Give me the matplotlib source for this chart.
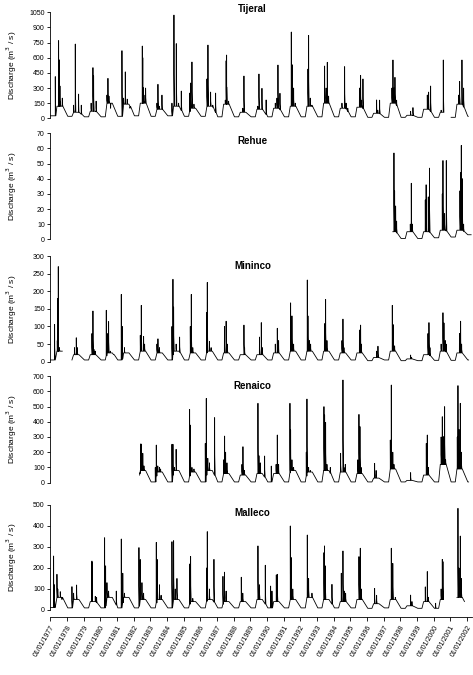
import numpy as np
import matplotlib
matplotlib.use('Agg')
import matplotlib.pyplot as plt

plt.rcParams['font.family'] = ['Liberation Sans', 'DejaVu Sans']

years = list(range(1977, 2003))
tick_labels = ['01/01/{}'.format(y) for y in years]

# ---- Tijeral (1977 - 2002) ----
tijeral_low = [25, 20, 15, 15, 20, 25, 20, 25, 20, 20, 15, 15, 15, 15, 15, 15, 15, 15, 15, 10, 10, 10, 10, 10, 10, 20]
tijeral_wet = [120, 60, 70, 150, 140, 150, 90, 120, 100, 120, 140, 60, 90, 100, 120, 120, 150, 100, 110, 50, 150, 30, 90, 60, 140, 100]
tijeral_peaks = [
    (1977.30, 413), (1977.50, 770), (1977.53, 580), (1977.58, 320), (1977.62, 160), (1977.72, 200),
    (1978.40, 130), (1978.50, 736), (1978.70, 240), (1978.86, 130),
    (1979.45, 150), (1979.56, 502), (1979.60, 420), (1979.75, 170),
    (1980.40, 230), (1980.46, 396), (1980.52, 220), (1980.62, 100),
    (1981.30, 670), (1981.40, 200), (1981.50, 460), (1981.62, 190), (1981.78, 100),
    (1982.45, 150), (1982.52, 716), (1982.55, 600), (1982.62, 230), (1982.72, 300),
    (1983.40, 150), (1983.46, 337), (1983.55, 120), (1983.70, 230),
    (1984.30, 150), (1984.42, 1023), (1984.56, 740), (1984.70, 150), (1984.86, 270),
    (1985.36, 250), (1985.42, 350), (1985.50, 558), (1985.62, 140),
    (1986.40, 390), (1986.46, 726), (1986.62, 260), (1986.75, 130), (1986.92, 250),
    (1987.50, 180), (1987.55, 570), (1987.58, 627), (1987.70, 170),
    (1988.55, 100), (1988.62, 419), (1988.70, 60),
    (1989.45, 120), (1989.52, 439), (1989.70, 297), (1989.95, 182),
    (1990.50, 150), (1990.60, 200), (1990.66, 528), (1990.78, 248),
    (1991.46, 855), (1991.52, 530), (1991.60, 300), (1991.70, 150),
    (1992.46, 488), (1992.50, 822), (1992.60, 200), (1992.70, 130),
    (1993.46, 518), (1993.55, 300), (1993.62, 555), (1993.70, 220),
    (1994.50, 150), (1994.66, 512), (1994.75, 150), (1994.85, 100),
    (1995.55, 300), (1995.62, 426), (1995.68, 180), (1995.76, 390),
    (1996.58, 182), (1996.65, 80), (1996.76, 180),
    (1997.50, 300), (1997.56, 578), (1997.62, 300), (1997.68, 406), (1997.78, 180),
    (1998.62, 70), (1998.76, 106),
    (1999.62, 231), (1999.70, 260), (1999.82, 320),
    (2000.45, 80), (2000.58, 578),
    (2001.50, 230), (2001.56, 366), (2001.70, 578), (2001.80, 300),
]

# ---- Rehue (1997 - 2002) ----
rehue_low = [3, 0.5, 0.5, 1, 1.5, 3]
rehue_wet = [5, 5, 5, 6, 6, 5]
rehue_peaks = [
    (1997.62, 57), (1997.66, 32), (1997.72, 22), (1997.78, 12),
    (1998.60, 10), (1998.66, 37), (1998.72, 10),
    (1999.50, 26), (1999.55, 36), (1999.68, 28), (1999.75, 47),
    (2000.52, 30), (2000.56, 52), (2000.66, 17), (2000.76, 52),
    (2001.58, 32), (2001.62, 44), (2001.66, 62), (2001.72, 40), (2001.80, 10),
]

# ---- Mininco (1977 - 2002) ----
mininco_low = [5, 5, 5, 5, 5, 5, 5, 5, 5, 5, 5, 5, 5, 5, 5, 5, 5, 5, 5, 3, 5, 3, 3, 4, 4, 5]
mininco_wet = [30, 20, 20, 25, 25, 30, 25, 30, 25, 30, 25, 20, 20, 25, 30, 30, 30, 25, 25, 12, 30, 8, 20, 30, 25, 20]
mininco_peaks = [
    (1977.26, 106), (1977.42, 60), (1977.46, 180), (1977.48, 270), (1977.55, 40), (1977.65, 30),
    (1978.45, 40), (1978.56, 68), (1978.62, 40),
    (1979.50, 80), (1979.56, 144), (1979.62, 35), (1979.70, 30),
    (1980.36, 146), (1980.45, 80), (1980.50, 114), (1980.60, 30), (1980.80, 20),
    (1981.26, 191), (1981.32, 100), (1981.45, 40), (1981.60, 25),
    (1982.40, 75), (1982.46, 160), (1982.60, 72), (1982.66, 50),
    (1983.40, 50), (1983.46, 65), (1983.55, 40),
    (1984.30, 100), (1984.36, 234), (1984.40, 155), (1984.55, 50), (1984.76, 70),
    (1985.40, 100), (1985.46, 191), (1985.55, 40),
    (1986.38, 140), (1986.42, 225), (1986.55, 58), (1986.65, 40),
    (1987.45, 100), (1987.55, 115), (1987.62, 50),
    (1988.62, 104), (1988.66, 40),
    (1989.55, 70), (1989.66, 111), (1989.72, 40),
    (1990.50, 50), (1990.62, 95), (1990.70, 60),
    (1991.42, 167), (1991.50, 130), (1991.60, 50),
    (1992.42, 232), (1992.46, 130), (1992.55, 60), (1992.62, 50),
    (1993.45, 108), (1993.52, 177), (1993.60, 60),
    (1994.50, 60), (1994.56, 121), (1994.62, 40),
    (1995.55, 90), (1995.62, 104), (1995.66, 50),
    (1996.58, 30), (1996.66, 44),
    (1997.52, 160), (1997.58, 105), (1997.66, 45),
    (1998.62, 19), (1998.68, 12),
    (1999.66, 80), (1999.72, 111), (1999.78, 40),
    (2000.45, 50), (2000.56, 139), (2000.62, 110), (2000.70, 60), (2000.75, 50),
    (2001.55, 80), (2001.62, 115), (2001.68, 50),
]

# ---- Renaico (1982 - 2002) ----
renaico_low = [5] * 21
renaico_wet = [80, 70, 80, 70, 80, 60, 50, 60, 60, 80, 70, 80, 70, 60, 30, 90, 15, 50, 120, 90, 30]
renaico_peaks = [
    (1982.38, 60), (1982.42, 254), (1982.45, 254), (1982.48, 100), (1982.55, 193), (1982.62, 110),
    (1983.30, 100), (1983.36, 247), (1983.45, 110), (1983.55, 100), (1983.62, 90),
    (1984.30, 252), (1984.36, 252), (1984.45, 100), (1984.55, 219), (1984.62, 80),
    (1985.36, 481), (1985.40, 378), (1985.50, 100), (1985.62, 90),
    (1986.30, 258), (1986.36, 553), (1986.45, 160), (1986.55, 130), (1986.86, 427),
    (1987.40, 150), (1987.46, 306), (1987.52, 200), (1987.60, 130),
    (1988.50, 120), (1988.56, 236), (1988.65, 80),
    (1989.46, 521), (1989.52, 177), (1989.60, 130), (1989.86, 175),
    (1990.26, 109), (1990.55, 120), (1990.62, 313), (1990.70, 120),
    (1991.38, 521), (1991.42, 346), (1991.50, 150), (1991.60, 100),
    (1992.36, 200), (1992.40, 549), (1992.50, 100), (1992.60, 80),
    (1993.42, 499), (1993.46, 444), (1993.52, 396), (1993.60, 120), (1993.80, 100),
    (1994.42, 193), (1994.56, 674), (1994.62, 100), (1994.70, 120),
    (1995.45, 150), (1995.52, 448), (1995.58, 368), (1995.65, 100),
    (1996.46, 127), (1996.55, 80),
    (1997.40, 280), (1997.46, 641), (1997.55, 200), (1997.62, 120),
    (1998.62, 66),
    (1999.56, 258), (1999.62, 313), (1999.68, 100),
    (2000.45, 300), (2000.52, 433), (2000.56, 302), (2000.62, 302), (2000.66, 499), (2000.72, 150),
    (2001.42, 300), (2001.46, 637), (2001.52, 350), (2001.60, 521), (2001.66, 200),
]

# ---- Malleco (1977 - 2002) ----
malleco_low = [12, 10, 10, 10, 10, 10, 10, 10, 10, 10, 10, 10, 10, 10, 10, 10, 10, 10, 10, 8, 10, 8, 8, 8, 8, 10]
malleco_wet = [60, 50, 40, 60, 60, 50, 50, 50, 40, 50, 40, 40, 50, 40, 50, 60, 50, 40, 50, 30, 50, 20, 40, 50, 60, 20]
malleco_peaks = [
    (1977.20, 257), (1977.25, 120), (1977.40, 170), (1977.45, 100), (1977.60, 87), (1977.70, 50),
    (1978.30, 111), (1978.40, 80), (1978.58, 119), (1978.65, 50),
    (1979.50, 233), (1979.52, 225), (1979.70, 65), (1979.78, 60),
    (1980.26, 344), (1980.32, 210), (1980.40, 130), (1980.50, 90), (1980.96, 90),
    (1981.26, 338), (1981.35, 175), (1981.45, 80),
    (1982.32, 297), (1982.40, 240), (1982.50, 130), (1982.60, 80),
    (1983.36, 322), (1983.42, 240), (1983.55, 120), (1983.65, 70),
    (1984.30, 325), (1984.40, 330), (1984.50, 100), (1984.60, 150),
    (1985.36, 219), (1985.42, 255), (1985.55, 55),
    (1986.38, 200), (1986.42, 373), (1986.55, 100), (1986.82, 241),
    (1987.36, 160), (1987.45, 180), (1987.55, 90),
    (1988.46, 156), (1988.55, 80),
    (1989.46, 305), (1989.55, 120), (1989.90, 213),
    (1990.22, 114), (1990.30, 90), (1990.56, 167), (1990.62, 170),
    (1991.40, 400), (1991.45, 250), (1991.55, 100),
    (1992.42, 357), (1992.50, 150), (1992.70, 80),
    (1993.42, 273), (1993.45, 305), (1993.50, 210), (1993.90, 122),
    (1994.46, 175), (1994.56, 281), (1994.65, 90), (1994.72, 80),
    (1995.52, 254), (1995.60, 294), (1995.66, 100),
    (1996.46, 103), (1996.58, 70),
    (1997.46, 294), (1997.55, 222), (1997.70, 60),
    (1998.62, 71), (1998.70, 40),
    (1999.50, 110), (1999.62, 183), (1999.68, 60),
    (2000.12, 32), (2000.45, 100), (2000.52, 241), (2000.56, 230),
    (2001.46, 484), (2001.52, 200), (2001.60, 352), (2001.66, 150),
]


def build(first_year, low, wet, peaks, start, end, gaps=()):
    # base flow anchors: dry summer, wet winter, recession in spring
    bt, bq = [], []
    for i in range(len(low)):
        y = first_year + i
        bt += [y + 0.05, y + 0.30, y + 0.40, y + 0.72]
        bq += [low[i], low[i], wet[i], wet[i]]
    bt = np.array(bt, float)
    bq = np.array(bq, float)
    pt = np.array([p[0] for p in peaks], float)
    pq = np.array([p[1] for p in peaks], float)
    pb = np.interp(pt, bt, bq)
    # storm hydrograph: quick rise, fast fall, slower tail back to base flow
    ends = np.array([start, end])
    t = np.concatenate([bt, pt - 0.005, pt, pt + 0.007, pt + 0.035, ends])
    q = np.concatenate([bq, pb, pq, pb + 0.35 * (pq - pb), pb, np.interp(ends, bt, bq)])
    order = np.argsort(t, kind='stable')
    t, q = t[order], q[order]
    keep = (t >= start) & (t <= end)
    for g0, g1 in gaps:
        keep &= ~((t > g0) & (t < g1))
    t, q = t[keep], q[keep]
    for g0, g1 in gaps:
        k = np.searchsorted(t, g0)
        t = np.insert(t, k, g0)
        q = np.insert(q, k, np.nan)
    return t, q


panels = [
    ('Tijeral', build(1977, tijeral_low, tijeral_wet, tijeral_peaks, 1977.0, 2002.08, [(2000.63, 2000.9)]),
     1050, 150, [0.1063, 0.8247, 0.8915, 0.157], 1.03),
    ('Rehue', build(1997, rehue_low, rehue_wet, rehue_peaks, 1997.55, 2002.25),
     70, 10, [0.1063, 0.6455, 0.8915, 0.157], 0.93),
    ('Mininco', build(1977, mininco_low, mininco_wet, mininco_peaks, 1977.0, 2002.1,
                      [(1977.78, 1977.92), (1978.12, 1978.22)]),
     300, 50, [0.1063, 0.4641, 0.8915, 0.1566], 0.91),
    ('Renaico', build(1982, renaico_low, renaico_wet, renaico_peaks, 1982.36, 2002.1),
     700, 100, [0.1063, 0.2849, 0.8915, 0.158], 0.91),
    ('Malleco', build(1977, malleco_low, malleco_wet, malleco_peaks, 1977.0, 2001.85, [(2000.6, 2001.4)]),
     500, 100, [0.1063, 0.0963, 0.8915, 0.1556], 0.92),
]

fig = plt.figure(figsize=(4.73, 6.75), dpi=100)

for k, (name, (t, q), top, step, pos, ty) in enumerate(panels):
    ax = fig.add_axes(pos)
    ax.plot(t, q, color='black', lw=0.6)
    ax.set_xlim(1977, 2002.3)
    ax.set_ylim(0, top)
    ax.set_yticks(np.arange(0, top + 1, step))
    ax.tick_params(axis='y', labelsize=5, length=2.5, width=0.6, pad=1.5)
    ax.spines['top'].set_visible(False)
    ax.spines['right'].set_visible(False)
    ax.spines['left'].set_linewidth(0.6)
    ax.set_ylabel('Discharge (m$^3$ / s)', fontsize=6, labelpad=2)
    ax.yaxis.set_label_coords(-0.075, 0.5)
    ax.text(0.48, ty, name, transform=ax.transAxes, ha='center', va='center',
            fontsize=7, fontweight='bold')
    if k < len(panels) - 1:
        ax.spines['bottom'].set_visible(False)
        ax.set_xticks([])
    else:
        ax.spines['bottom'].set_position(('outward', 5))
        ax.spines['bottom'].set_linewidth(0.6)
        ax.set_xticks(years)
        ax.set_xticklabels(tick_labels, rotation=60, ha='right', va='top',
                           rotation_mode='anchor', fontsize=5)
        ax.tick_params(axis='x', length=3, width=0.6, pad=2)

fig.savefig('out.png', dpi=100)
